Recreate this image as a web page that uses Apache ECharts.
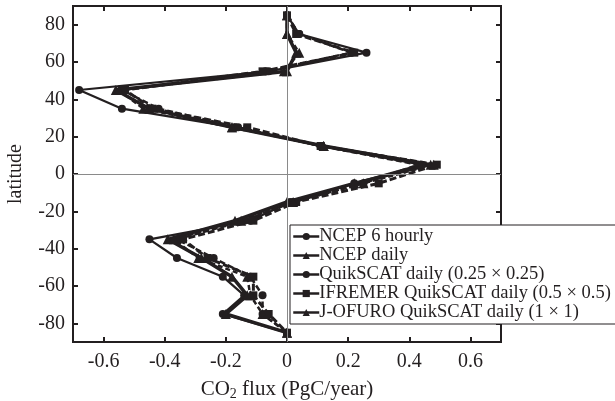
<!DOCTYPE html>
<html>
<head>
<meta charset="utf-8">
<script src="https://cdn.jsdelivr.net/npm/echarts@6/dist/echarts.min.js"></script>
<style>html,body{margin:0;padding:0;background:#fff;}#c{width:615px;height:401px;}</style>
</head>
<body>
<div id="c"></div>
<script>
const latitudes = [85, 75, 65, 55, 45, 35, 25, 15, 5, -5, -15, -25, -35, -45, -55, -65, -75, -85];
const ncep6hourly = [0, 0.04, 0.26, -0.06, -0.68, -0.54, -0.17, 0.11, 0.44, 0.22, 0.01, -0.12, -0.45, -0.36, -0.21, -0.14, -0.21, 0];
const ncepDaily   = [0, 0.0, 0.03, 0.0, -0.56, -0.45, -0.18, 0.12, 0.47, 0.22, 0.0, -0.17, -0.39, -0.28, -0.18, -0.13, -0.20, 0];
const quikscat025 = [0, 0.04, 0.21, -0.07, -0.54, -0.42, -0.16, 0.11, 0.43, 0.25, 0.02, -0.14, -0.36, -0.24, -0.12, -0.08, -0.08, 0];
const ifremer05   = [0, 0.03, 0.22, -0.08, -0.53, -0.44, -0.13, 0.11, 0.49, 0.30, 0.03, -0.11, -0.34, -0.26, -0.11, -0.11, -0.06, 0];
const jofuro1     = [0, 0.0, 0.04, -0.01, -0.55, -0.47, -0.18, 0.12, 0.48, 0.25, 0.02, -0.15, -0.37, -0.29, -0.13, -0.12, -0.08, 0];
const seriesNames = ['NCEP 6 hourly', 'NCEP daily', 'QuikSCAT daily (0.25 × 0.25)', 'IFREMER QuikSCAT daily (0.5 × 0.5)', 'J-OFURO QuikSCAT daily (1 × 1)'];
const xTicks = [-0.6, -0.4, -0.2, 0, 0.2, 0.4, 0.6];
const yTicks = [-80, -60, -40, -20, 0, 20, 40, 60, 80];

const ink = '#231f20';
const font = 'Liberation Serif';
function pts(vals) { return vals.map((v, i) => [v, latitudes[i]]); }

const styles = [
  {data: ncep6hourly, symbol: 'circle', size: 8, width: 2.2, type: 'solid'},
  {data: ncepDaily, symbol: 'triangle', size: 10, width: 3.5, type: 'solid'},
  {data: quikscat025, symbol: 'circle', size: 8, width: 2.5, type: [6, 3]},
  {data: ifremer05, symbol: 'rect', size: 8, width: 3, type: [7, 3]},
  {data: jofuro1, symbol: 'triangle', size: 10, width: 2.5, type: [5, 3]}
];

const series = styles.map((s, i) => ({
  name: seriesNames[i],
  type: 'line',
  data: pts(s.data),
  symbol: s.symbol,
  symbolSize: s.size,
  showSymbol: true,
  lineStyle: {color: ink, width: s.width, type: s.type},
  itemStyle: {color: ink},
  z: 3,
  animation: false
}));
series.unshift({
  type: 'line', data: [], silent: true, z: 1, animation: false,
  markLine: {
    silent: true, symbol: 'none', label: {show: false}, animation: false,
    lineStyle: {color: '#8a8a8a', width: 1, type: 'solid'},
    data: [{xAxis: 0}, {yAxis: 0}]
  }
});

const tick = {show: true, inside: true, length: 5, lineStyle: {color: ink, width: 2}};
const chart = echarts.init(document.getElementById('c'));
chart.setOption({
  backgroundColor: '#fff',
  animation: false,
  grid: {left: 73, right: 114, top: 6, bottom: 59, containLabel: false, outerBoundsMode: 'none',
         show: true, borderColor: ink, borderWidth: 2, backgroundColor: 'transparent'},
  legend: {
    orient: 'vertical', left: 290, top: 225,
    data: seriesNames,
    itemWidth: 26, itemHeight: 9, itemGap: 0,
    padding: [2, 16, 2, 2],
    backgroundColor: '#fff', borderColor: ink, borderWidth: 1,
    lineStyle: {type: 'solid', width: 2.5},
    textStyle: {fontFamily: font, fontSize: 18.5, lineHeight: 18, color: ink, padding: [0, 0, 0, -5]}
  },
  xAxis: [{
    type: 'value', min: -0.7, max: 0.7, position: 'bottom',
    name: 'CO{sub|2} flux (PgC/year)', nameLocation: 'middle', nameGap: 35,
    nameTextStyle: {fontFamily: font, fontSize: 21, color: ink,
      rich: {sub: {fontFamily: font, fontSize: 14, color: ink, verticalAlign: 'bottom', padding: [10, 0, 0, 0]}}},
    axisLine: {show: false, onZero: false},
    splitLine: {show: false},
    axisTick: Object.assign({customValues: xTicks}, tick),
    axisLabel: {fontFamily: font, fontSize: 20, color: ink, margin: 10, customValues: xTicks}
  }, {
    type: 'value', min: -0.7, max: 0.7, position: 'top',
    axisLine: {show: false, onZero: false}, splitLine: {show: false},
    axisTick: Object.assign({customValues: xTicks}, tick),
    axisLabel: {show: false, customValues: xTicks}
  }],
  yAxis: [{
    type: 'value', min: -90, max: 90, position: 'left',
    name: 'latitude', nameLocation: 'middle', nameGap: 47,
    nameTextStyle: {fontFamily: font, fontSize: 20, color: ink},
    axisLine: {show: false, onZero: false}, splitLine: {show: false},
    axisTick: Object.assign({customValues: yTicks}, tick),
    axisLabel: {fontFamily: font, fontSize: 20, color: ink, margin: 8, customValues: yTicks}
  }, {
    type: 'value', min: -90, max: 90, position: 'right',
    axisLine: {show: false, onZero: false}, splitLine: {show: false},
    axisTick: Object.assign({customValues: yTicks}, tick),
    axisLabel: {show: false, customValues: yTicks}
  }],
  series: series
});
</script>
</body>
</html>
